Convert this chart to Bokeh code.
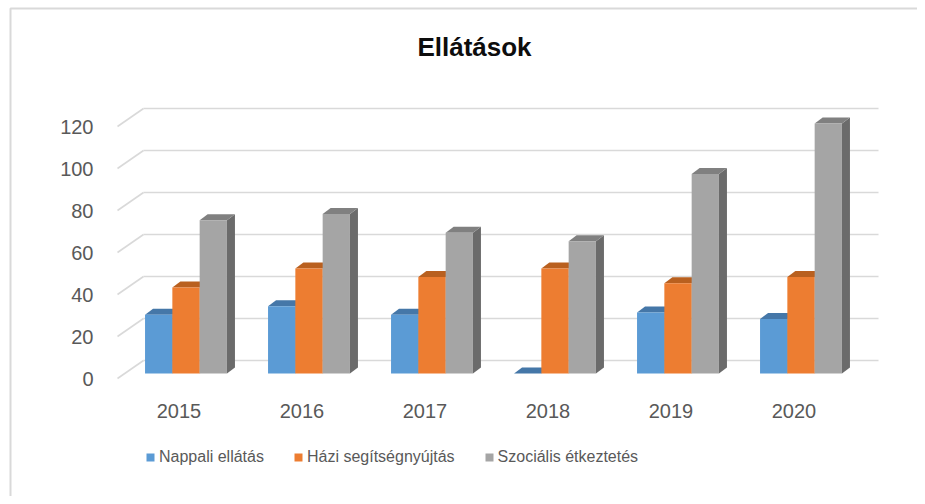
from bokeh.plotting import figure
from bokeh.models import (Range1d, FixedTicker, Legend, LegendItem, Label,
                          ColumnDataSource, LinearAxis)
from bokeh.embed import file_html
from bokeh.resources import INLINE

# ---- data ----
years = ["2015", "2016", "2017", "2018", "2019", "2020"]
nappali = [28, 32, 28, 0, 29, 26]
hazi = [41, 50, 46, 50, 43, 46]
szocialis = [73, 76, 67, 63, 95, 119]
series_names = ["Nappali ellátás", "Házi segítségnyújtás", "Szociális étkeztetés"]
y_ticks = [0, 20, 40, 60, 80, 100, 120]

# ---- styles ----
front_cols = ["#5b9bd5", "#ed7d31", "#a5a5a5"]
top_cols = ["#4577a8", "#b9601f", "#808080"]
side_cols = ["#3f6d9a", "#b0561b", "#6b6b6b"]
grid_col = "#d9d9d9"
txt_col = "#595959"
FONT = "Liberation Sans"

W, H = 917, 496
PX_X = 123.0          # px per category
PX_Y = 2.1            # px per value unit
X0_PX, Y0_PX = 117, 378   # canvas position of (0, 0)

def dx(px):
    return px / PX_X

def dy(px):
    return px / PX_Y

# 3D offsets (data units)
wall_dx, wall_dy = dx(26), dy(18)     # back wall
bar_dx, bar_dy = dx(7), dy(5)         # bar front plane
dep_dx, dep_dy = dx(8), dy(6)         # bar depth
bar_w = 0.222

p = figure(width=W, height=H, output_backend="svg", toolbar_location=None,
           x_range=Range1d(dx(-X0_PX), dx(W - X0_PX)),
           y_range=Range1d(dy(Y0_PX - H), dy(Y0_PX)),
           min_border=0, x_axis_location=None, y_axis_location=None)
p.outline_line_color = None
p.xgrid.visible = False
p.ygrid.visible = False
p.background_fill_color = "white"
p.border_fill_color = "white"

# chart-area border (top & left edges visible)
p.line([dx(10 - X0_PX), dx(10 - X0_PX), dx(W - X0_PX)],
       [dy(Y0_PX - H), dy(Y0_PX - 8), dy(Y0_PX - 8)],
       line_color=grid_col, line_width=2)

# back-wall gridlines and left-wall diagonals
n = len(years)
wall_right = dx(878 - X0_PX)
for v in y_ticks:
    p.line([wall_dx, wall_right], [v + wall_dy, v + wall_dy],
           line_color=grid_col, line_width=1.6)
    p.line([0, wall_dx], [v, v + wall_dy], line_color=grid_col, line_width=1.6)

# bars
all_series = [nappali, hazi, szocialis]
fronts = []
for j, vals in enumerate(all_series):
    x0 = [i + 0.5 - 1.5 * bar_w + j * bar_w + bar_dx for i in range(n)]
    x1 = [a + bar_w for a in x0]
    y1 = [bar_dy + v for v in vals]
    sides_x = [[b, b + dep_dx, b + dep_dx, b] for b in x1]
    sides_y = [[bar_dy, bar_dy + dep_dy, t + dep_dy, t] for t in y1]
    tops_x = [[a, b, b + dep_dx, a + dep_dx] for a, b in zip(x0, x1)]
    tops_y = [[t, t, t + dep_dy, t + dep_dy] for t in y1]
    p.patches(sides_x, sides_y, fill_color=side_cols[j], line_color=None)
    p.patches(tops_x, tops_y, fill_color=top_cols[j], line_color=None)
    fronts.append(ColumnDataSource(dict(left=x0, right=x1, bottom=[bar_dy] * n, top=y1)))

legend_items = []
for j in range(3):
    r = p.quad(left="left", right="right", bottom="bottom", top="top", source=fronts[j],
               fill_color=front_cols[j], line_color=None)
    legend_items.append(LegendItem(label=series_names[j], renderers=[r]))

# axes (fixed inside the frame at the front plane)
yaxis = LinearAxis(fixed_location=0, ticker=FixedTicker(ticks=y_ticks))
yaxis.axis_line_color = None
yaxis.major_tick_line_color = None
yaxis.minor_tick_line_color = None
yaxis.major_label_standoff = 18
yaxis.major_label_text_font = FONT
yaxis.major_label_text_font_size = "20px"
yaxis.major_label_text_color = txt_col
p.add_layout(yaxis, "left")

xaxis = LinearAxis(fixed_location=0, ticker=FixedTicker(ticks=[i + 0.5 for i in range(n)]))
xaxis.major_label_overrides = {i + 0.5: y for i, y in enumerate(years)}
xaxis.axis_line_color = None
xaxis.major_tick_line_color = None
xaxis.minor_tick_line_color = None
xaxis.major_label_standoff = 19
xaxis.major_label_text_font = FONT
xaxis.major_label_text_font_size = "20px"
xaxis.major_label_text_color = txt_col
p.add_layout(xaxis, "below")

# title
title = Label(x=dx(474 - X0_PX), y=dy(Y0_PX - 46), text="Ellátások",
              text_font=FONT, text_font_size="26px", text_font_style="bold",
              text_color="#0d0d0d", text_align="center", text_baseline="middle")
p.add_layout(title)

# legend
legend = Legend(items=legend_items, orientation="horizontal", location=(145, 30),
                glyph_width=10, glyph_height=10, label_standoff=4, spacing=29,
                padding=0, margin=0, border_line_color=None, background_fill_alpha=0,
                label_text_font=FONT, label_text_font_size="16px",
                label_text_color=txt_col)
p.add_layout(legend, "center")

open("out.html", "w").write(file_html(p, INLINE))
